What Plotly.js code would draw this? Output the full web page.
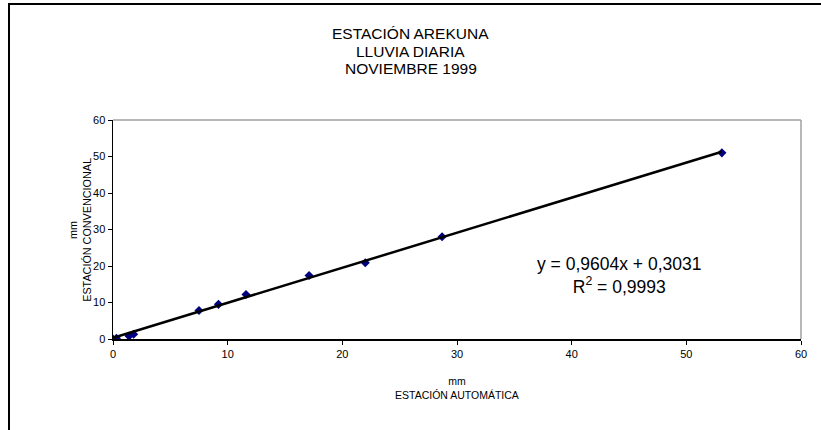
<!DOCTYPE html>
<html>
<head>
<meta charset="utf-8">
<script src="https://cdn.plot.ly/plotly-3.0.1.min.js"></script>
<style>
html,body{margin:0;padding:0;background:#fff;}
#wrap{position:relative;width:821px;height:430px;}
#frame{position:absolute;left:8px;top:3px;width:813px;height:427px;border-left:2px solid #000;border-top:2px solid #000;pointer-events:none;z-index:5;}
#chart{width:821px;height:430px;}
</style>
</head>
<body>
<div id="wrap"><div id="frame"></div><div id="chart"></div></div>
<script>
var automatica = [0, 0.3, 1.4, 1.8, 7.5, 9.2, 11.6, 17.1, 22.0, 28.7, 53.1];
var convencional = [0, 0.2, 0.8, 1.3, 7.8, 9.5, 12.2, 17.4, 20.9, 28.0, 51.0];
var slope = 0.9604;
var intercept = 0.3031;
var eqText = "y = 0,9604x + 0,3031";
var r2Text = "R<sup>2</sup> = 0,9993";
var titleLines = ["ESTACIÓN AREKUNA", "LLUVIA DIARIA", "NOVIEMBRE 1999"];
var xTitleLines = ["mm", "ESTACIÓN AUTOMÁTICA"];
var yTitleLines = ["mm", "ESTACIÓN CONVENCIONAL"];
var xTicks = [0, 10, 20, 30, 40, 50, 60];
var yTicks = [0, 10, 20, 30, 40, 50, 60];

var xmin = Math.min.apply(null, automatica), xmax = Math.max.apply(null, automatica);
var fitX = [xmin, xmax];
var fitY = fitX.map(function(v){ return slope * v + intercept; });

var font = "Liberation Sans, Arial, sans-serif";

var data = [
  {x: automatica, y: convencional, type: "scatter", mode: "markers",
   marker: {symbol: "diamond", size: 7, color: "#000080"}, hoverinfo: "x+y"},
  {x: fitX, y: fitY, type: "scatter", mode: "lines",
   line: {color: "#000", width: 2.5}, hoverinfo: "skip"}
];

// title lines placed individually (container-centred)
var titleY = [1.397, 1.315, 1.233];
var titleAnns = titleLines.map(function(t, i){
  return {text: t, xref: "paper", yref: "paper", x: (410.5 - 113) / 688, y: titleY[i],
          xanchor: "center", yanchor: "middle", showarrow: false,
          font: {family: font, size: 15.5, color: "#000"}};
});

var layout = {
  width: 821, height: 430,
  margin: {l: 113, r: 20, t: 120, b: 91},
  paper_bgcolor: "#fff", plot_bgcolor: "#fff",
  showlegend: false,
  font: {family: font, color: "#000"},
  xaxis: {range: [0, 60], tickvals: xTicks, ticktext: xTicks.map(String),
          showgrid: false, zeroline: false, showline: true, linecolor: "#000", linewidth: 1.5,
          ticks: "outside", ticklen: 4, tickcolor: "#000", tickwidth: 1,
          tickfont: {family: font, size: 11, color: "#000"},
          fixedrange: true},
  yaxis: {range: [0, 60], tickvals: yTicks, ticktext: yTicks.map(String),
          showgrid: false, zeroline: false, showline: true, linecolor: "#000", linewidth: 1.5,
          ticks: "outside", ticklen: 4, tickcolor: "#000", tickwidth: 1,
          tickfont: {family: font, size: 11, color: "#000"},
          fixedrange: true},
  shapes: [
    {type: "line", xref: "paper", yref: "paper", x0: 0, x1: 1, y0: 1, y1: 1, line: {color: "#a0a0a0", width: 1.5}},
    {type: "line", xref: "paper", yref: "paper", x0: 1, x1: 1, y0: 0, y1: 1, line: {color: "#a0a0a0", width: 1.5}}
  ],
  annotations: titleAnns.concat([
    {text: eqText + "<br>" + r2Text, xref: "paper", yref: "paper", x: 0.735, y: 0.29,
     xanchor: "center", yanchor: "middle", showarrow: false, align: "center",
     font: {family: font, size: 17.5, color: "#000"}},
    {text: xTitleLines.join("<br>"), xref: "paper", yref: "paper", x: 0.5, y: -0.225,
     xanchor: "center", yanchor: "middle", showarrow: false, align: "center",
     font: {family: font, size: 10.5, color: "#000"}},
    {text: yTitleLines.join("<br>"), xref: "paper", yref: "paper", x: -0.049, y: 0.5,
     xanchor: "center", yanchor: "middle", showarrow: false, align: "center", textangle: -90,
     font: {family: font, size: 10.8, color: "#000"}}
  ])
};

Plotly.newPlot("chart", data, layout, {displayModeBar: false, staticPlot: true});
</script>
</body>
</html>
